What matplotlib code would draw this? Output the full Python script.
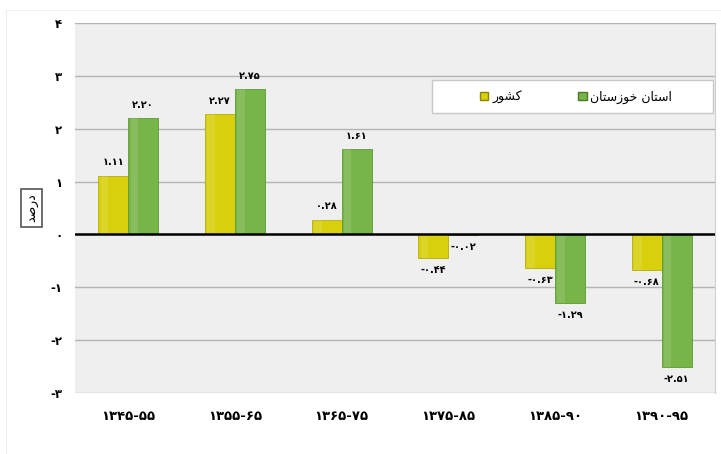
import matplotlib
matplotlib.use("Agg")
import matplotlib.pyplot as plt
from matplotlib.patches import Rectangle, Patch
import numpy as np

plt.rcParams['font.family'] = ['DejaVu Sans']

# ---- data ----
categories = ["۱۳۴۵-۵۵", "۱۳۵۵-۶۵", "۱۳۶۵-۷۵", "۱۳۷۵-۸۵", "۱۳۸۵-۹۰", "۱۳۹۰-۹۵"]
country = [1.11, 2.27, 0.28, -0.44, -0.63, -0.68]
khuzestan = [2.20, 2.75, 1.61, -0.02, -1.29, -2.51]
country_labels = ["۱.۱۱", "۲.۲۷", "۰.۲۸", "-۰.۴۴", "-۰.۶۳", "-۰.۶۸"]
khuzestan_labels = ["۲.۲۰", "۲.۷۵", "۱.۶۱", "-۰.۰۲", "-۱.۲۹", "-۲.۵۱"]
yticks = [-3, -2, -1, 0, 1, 2, 3, 4]
ytick_labels = ["-۳", "-۲", "-۱", "۰", "۱", "۲", "۳", "۴"]
# Persian words in visual order with presentation forms
name_country = "\uFEAD\uFEEE\uFEB8\uFB90"  # کشور
name_khuzestan = "\uFEE5\uFE8E\uFE98\uFEB3\uFEAF\uFEEE\uFEA7 \uFEE5\uFE8E\uFE98\uFEB3\uFE8D"  # استان خوزستان
ylabel_text = "\uFEAA\uFEBB\uFEAD\uFEA9"  # درصد

W, H = 721, 454
fig = plt.figure(figsize=(W / 100, H / 100), dpi=100)
fig.patch.set_facecolor("white")

# faint outer border
fig.patches.append(Rectangle((6 / W, 0.0), 1.0, 1 - 10 / H, transform=fig.transFigure,
                             fill=False, edgecolor="#eeeeee", linewidth=0.8))

ax = fig.add_axes([75 / W, 1 - 393 / H, 640 / W, 370 / H])
ax.set_facecolor("#efefef")

x = np.arange(len(categories))
bw = 0.28
yellow = "#d8d00c"
green = "#78b548"
ax.bar(x - bw / 2, country, width=bw, color=yellow, edgecolor="#b5ad06", linewidth=0.6, zorder=3)
ax.bar(x + bw / 2, khuzestan, width=bw, color=green, edgecolor="#5e9a34", linewidth=0.6, zorder=3)
# subtle highlight on the left part of each bar
ax.bar(x - bw / 2 - bw * 0.3, country, width=bw * 0.25, color="white", alpha=0.12,
       linewidth=0, zorder=3.5)
ax.bar(x + bw / 2 - bw * 0.3, khuzestan, width=bw * 0.25, color="white", alpha=0.12,
       linewidth=0, zorder=3.5)

ax.set_xlim(-0.5, len(categories) - 0.5)
ax.set_ylim(-3, 4)
ax.set_yticks(yticks)
ax.set_yticklabels(ytick_labels, fontsize=8.5, fontweight="bold")
ax.set_xticks(x)
ax.set_xticklabels(categories, fontsize=9.5, fontweight="bold")
ax.tick_params(axis="both", length=0)
ax.tick_params(axis="y", pad=9)
ax.tick_params(axis="x", pad=12)

for yv in yticks:
    if yv != 0:
        ax.axhline(yv, color="#b4b4b4", linewidth=1.0, zorder=1)
ax.axhline(0, color="black", linewidth=1.8, zorder=4)
for s in ax.spines.values():
    s.set_visible(False)
ax.spines["right"].set_visible(True)
ax.spines["right"].set_color("#d0d0d0")

# data labels
for xi, v, t in zip(x - bw / 2, country, country_labels):
    off = 6 if v >= 0 else -5
    ax.annotate(t, (xi, v), xytext=(0, off), textcoords="offset points",
                ha="center", va="bottom" if v >= 0 else "top",
                fontsize=7, fontweight="bold", zorder=5)
for xi, v, t in zip(x + bw / 2, khuzestan, khuzestan_labels):
    off = 6 if v >= 0 else -5
    ax.annotate(t, (xi, v), xytext=(0, off), textcoords="offset points",
                ha="center", va="bottom" if v >= 0 else "top",
                fontsize=7, fontweight="bold", zorder=5)

# y label in a box
fig.text(31.5 / W, 1 - 208 / H, ylabel_text, rotation=90, ha="center", va="center",
         fontsize=9, bbox=dict(boxstyle="square,pad=0.35", facecolor="white",
                               edgecolor="#555555", linewidth=1.2))

# legend box
fig.patches.append(Rectangle((432 / W, 1 - 113 / H), 281 / W, 33 / H, transform=fig.transFigure,
                             facecolor="white", edgecolor="#c8c8c8", linewidth=1.0, zorder=5))
handles = [Patch(facecolor=yellow, edgecolor="#8a8400", label=name_country),
           Patch(facecolor=green, edgecolor="#4a7a28", label=name_khuzestan)]
leg = fig.legend(handles=handles, loc="center", bbox_to_anchor=(576 / W, 1 - 97 / H),
                 ncol=2, frameon=False, fontsize=9, handlelength=0.7, handleheight=0.7,
                 handletextpad=0.3, columnspacing=4.5)
leg.set_zorder(6)

fig.savefig("out.png", dpi=100)
